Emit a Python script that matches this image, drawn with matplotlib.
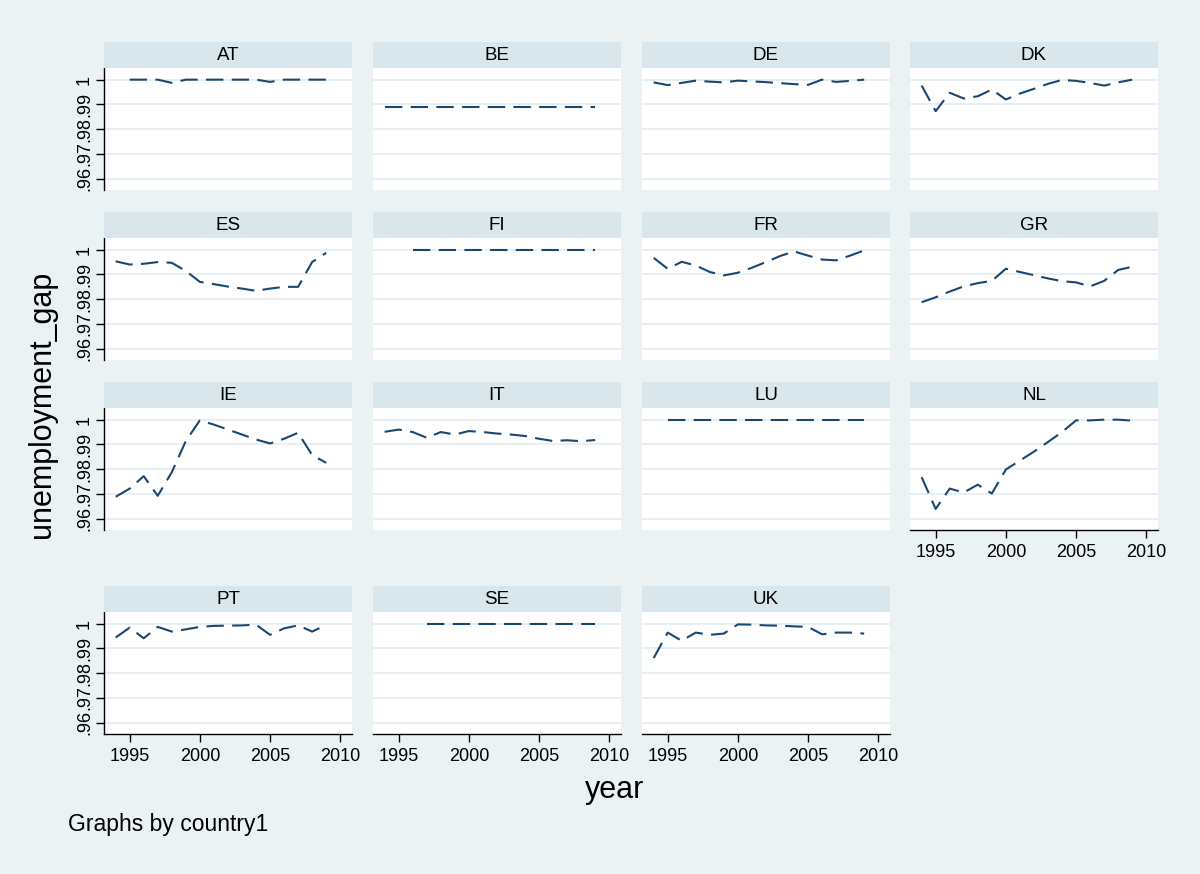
import matplotlib
matplotlib.use("Agg")
import matplotlib.pyplot as plt
import numpy as np

plt.rcParams['font.family'] = ['Liberation Sans', 'DejaVu Sans']
plt.rcParams['lines.scale_dashes'] = False

countries = ["AT", "BE", "DE", "DK", "ES", "FI", "FR", "GR",
             "IE", "IT", "LU", "NL", "PT", "SE", "UK"]

years_full = list(range(1994, 2010))

AT_years = list(range(1995, 2010))
AT = [1.0, 1.0, 1.0, .9987, 1.0, 1.0, 1.0, 1.0, 1.0, 1.0, .9991, 1.0, 1.0, 1.0, 1.0]
BE = [.9890] * 16
DE = [.9989, .9978, .9987, .9996, .9992, .9989, .9996, .9993, .9990, .9986,
      .9982, .9979, 1.0, .9991, .9995, 1.0]
DK = [.9976, .9873, .9947, .9924, .9933, .9960, .9920, .9944, .9963, .9983,
      .9999, .9995, .9987, .9976, .9989, 1.0]
ES = [.9953, .9940, .9943, .9950, .9947, .9914, .9870, .9861, .9851, .9843,
      .9834, .9843, .9850, .9850, .9950, .9987]
FI_years = list(range(1996, 2010))
FI = [1.0] * 14
FR = [.9967, .9923, .9951, .9936, .9910, .9896, .9907, .9927, .9950, .9974,
      .9993, .9976, .9960, .9957, .9976, .9997]
GR = [.9788, .9808, .9831, .9852, .9865, .9874, .9923, .9910, .9897, .9884,
      .9873, .9868, .9852, .9874, .9918, .9931]
IE = [.9689, .9722, .9772, .9693, .9788, .9914, .9997, .9980, .9960, .9940,
      .9920, .9904, .9923, .9947, .9857, .9826]
IT = [.9951, .9960, .9950, .9927, .9950, .9940, .9954, .9950, .9944, .9940,
      .9934, .9923, .9914, .9917, .9913, .9918]
LU_years = list(range(1995, 2010))
LU = [1.0] * 15
NL = [.9768, .9640, .9722, .9706, .9738, .9702, .9799, .9835, .9871, .9910,
      .9950, .9997, .9997, 1.0, 1.0, .9996]
PT = [.9944, .9984, .9941, .9987, .9968, .9977, .9987, .9991, .9992, .9993,
      .9996, .9955, .9981, .9993, .9968, .9995]
SE_years = list(range(1997, 2010))
SE = [1.0] * 13
UK = [.9861, .9964, .9931, .9964, .9955, .9960, .9997, .9996, .9993, .9992,
      .9989, .9987, .9957, .9964, .9964, .9960]

series = {
    "AT": (AT_years, AT), "BE": (years_full, BE), "DE": (years_full, DE),
    "DK": (years_full, DK), "ES": (years_full, ES), "FI": (FI_years, FI),
    "FR": (years_full, FR), "GR": (years_full, GR), "IE": (years_full, IE),
    "IT": (years_full, IT), "LU": (LU_years, LU), "NL": (years_full, NL),
    "PT": (years_full, PT), "SE": (SE_years, SE), "UK": (years_full, UK),
}

y_ticks = [.96, .97, .98, .99, 1.0]
y_tick_labels = [".96", ".97", ".98", ".99", "1"]
x_ticks = [1995, 2000, 2005, 2010]
x_tick_labels = ["1995", "2000", "2005", "2010"]

BG = "#EAF2F3"
STRIP = "#D9E6EB"
LINE = "#1a476f"
GRID = "#E6EEF1"

W, H = 1200, 874
fig = plt.figure(figsize=(12, 8.74), dpi=100, facecolor=BG)

col_left = [104, 373, 642, 910]
panel_w = 248
row_strip_top = [42, 212, 382, 586]
strip_h = 26
plot_h = 122

def fx(px):
    return px / W

def fy(py):
    return 1 - py / H

for i, c in enumerate(countries):
    r, k = divmod(i, 4)
    left = col_left[k]
    st = row_strip_top[r]
    ptop = st + strip_h
    pbot = ptop + plot_h
    ax = fig.add_axes([fx(left), fy(pbot), fx(panel_w), plot_h / H])
    sax = fig.add_axes([fx(left), fy(ptop), fx(panel_w), strip_h / H])
    sax.set_facecolor(STRIP)
    sax.set_xticks([]); sax.set_yticks([])
    for s in sax.spines.values():
        s.set_visible(False)
    sax.text(0.5, 0.5, c, ha="center", va="center", fontsize=13.5,
             transform=sax.transAxes)

    ax.set_facecolor("white")
    xs, ys = series[c]
    ax.plot(xs, ys, color=LINE, lw=1.5, dashes=(12.5, 6), zorder=3)
    ax.set_xlim(1993.17, 2010.84)
    ax.set_ylim(.9555, 1.0047)
    ax.set_yticks(y_ticks)
    ax.set_xticks(x_ticks)
    ax.grid(axis="y", color=GRID, lw=1.3, zorder=0)
    ax.grid(axis="x", visible=False)
    for s in ["top", "right"]:
        ax.spines[s].set_visible(False)
    # y axis only for first column
    if k == 0:
        ax.spines["left"].set_color("black")
        ax.spines["left"].set_linewidth(1.0)
        ax.set_yticklabels(y_tick_labels, rotation=90, va="center", fontsize=13)
        ax.tick_params(axis="y", length=6, width=1, pad=2, colors="black")
    else:
        ax.spines["left"].set_visible(False)
        ax.tick_params(axis="y", length=0, labelleft=False)
    bottom_panel = (r == 3) or (r == 2 and k == 3)
    if bottom_panel:
        ax.spines["bottom"].set_color("black")
        ax.spines["bottom"].set_linewidth(1.0)
        ax.set_xticklabels(x_tick_labels, fontsize=13)
        ax.tick_params(axis="x", length=6, width=1, pad=4, colors="black")
    else:
        ax.spines["bottom"].set_visible(False)
        ax.tick_params(axis="x", length=0, labelbottom=False)

fig.text(fx(615), fy(790), "year", ha="center", va="center", fontsize=22)
fig.text(fx(42), fy(404), "unemployment_gap", ha="center", va="center",
         rotation=90, fontsize=22)
fig.text(fx(68), fy(825), "Graphs by country1", ha="left", va="center",
         fontsize=16.5)

fig.savefig("out.png", dpi=100, facecolor=BG)
